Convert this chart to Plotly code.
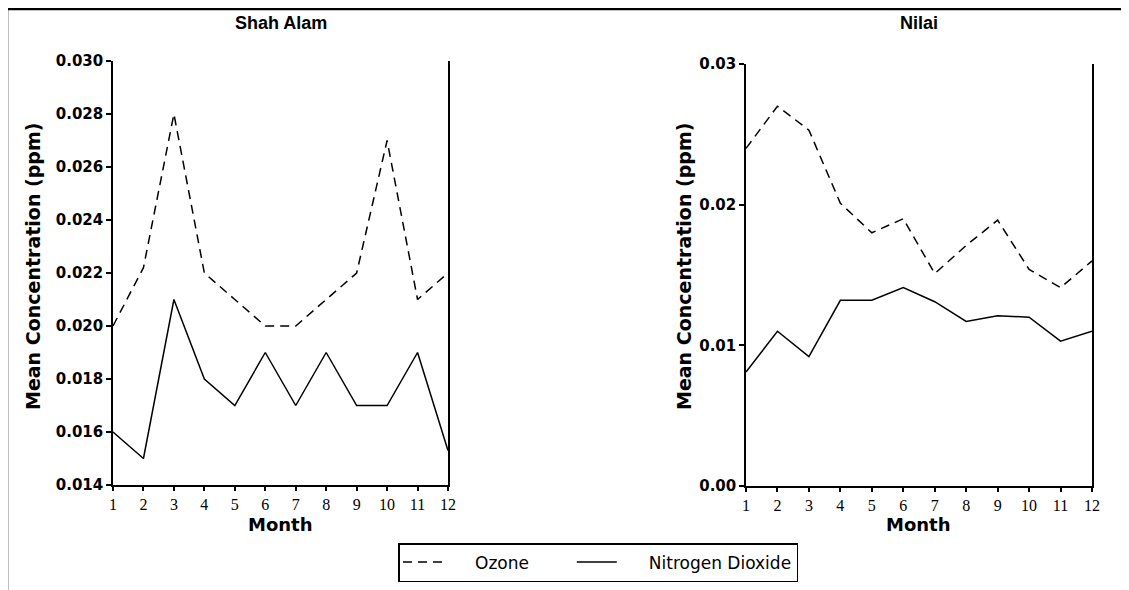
import plotly.graph_objects as go

months = list(range(1, 13))
month_ticks = [str(m) for m in months]

shah_alam_ozone = [0.0200, 0.0222, 0.0280, 0.0220, 0.0210, 0.0200, 0.0200, 0.0210, 0.0220, 0.0270, 0.0210, 0.0220]
shah_alam_no2 = [0.0160, 0.0150, 0.0210, 0.0180, 0.0170, 0.0190, 0.0170, 0.0190, 0.0170, 0.0170, 0.0190, 0.0153]

nilai_ozone = [0.0240, 0.0270, 0.0253, 0.0201, 0.0180, 0.0190, 0.0151, 0.0171, 0.0189, 0.0154, 0.0141, 0.0160]
nilai_no2 = [0.0081, 0.0110, 0.0092, 0.0132, 0.0132, 0.0141, 0.0131, 0.0117, 0.0121, 0.0120, 0.0103, 0.0110]

shah_alam_yticks = [0.014, 0.016, 0.018, 0.020, 0.022, 0.024, 0.026, 0.028, 0.030]
shah_alam_ylabels = ["0.014", "0.016", "0.018", "0.020", "0.022", "0.024", "0.026", "0.028", "0.030"]
nilai_yticks = [0.00, 0.01, 0.02, 0.03]
nilai_ylabels = ["0.00", "0.01", "0.02", "0.03"]

W, H = 1129, 590
OFF = 8  # page body margin offset

def px(x):
    return (x - OFF) / W

def py(y):
    return 1 - (y - OFF) / H

NB = "\u00a0"

fig = go.Figure()

dash_style = dict(color="black", width=1.5, dash="9px,6px")
solid_style = dict(color="black", width=1.5)

fig.add_trace(go.Scatter(x=months, y=shah_alam_ozone, mode="lines", line=dash_style,
                         name=NB * 5 + "Ozone" + NB * 7, legendgroup="o3", xaxis="x", yaxis="y"))
fig.add_trace(go.Scatter(x=months, y=shah_alam_no2, mode="lines", line=solid_style,
                         name=NB * 5 + "Nitrogen Dioxide", legendgroup="no2", xaxis="x", yaxis="y"))
fig.add_trace(go.Scatter(x=months, y=nilai_ozone, mode="lines", line=dash_style,
                         name="Ozone", legendgroup="o3", showlegend=False, xaxis="x2", yaxis="y2"))
fig.add_trace(go.Scatter(x=months, y=nilai_no2, mode="lines", line=solid_style,
                         name="Nitrogen Dioxide", legendgroup="no2", showlegend=False, xaxis="x2", yaxis="y2"))

xtickfont = dict(family="Liberation Serif", size=16, color="black")
ytickfont = dict(family="DejaVu Sans", size=15, color="black", weight="bold")

common_x = dict(range=[1, 12], tickmode="array", tickvals=months, ticktext=month_ticks,
                showline=True, linecolor="black", linewidth=1.5, ticks="outside",
                ticklen=4, tickwidth=2, tickcolor="black", showgrid=False, zeroline=False,
                tickfont=xtickfont, fixedrange=True)
common_y = dict(showline=True, linecolor="black", linewidth=1.5, mirror=True, ticks="outside",
                ticklen=5, tickwidth=1.5, tickcolor="black", showgrid=False, zeroline=False,
                tickfont=ytickfont, fixedrange=True)

fig.update_layout(
    width=W, height=H,
    margin=dict(l=0, r=0, t=0, b=0, autoexpand=False),
    paper_bgcolor="white", plot_bgcolor="white",
    xaxis=dict(domain=[px(113), px(448)], anchor="y", **common_x),
    yaxis=dict(domain=[py(485), py(61)], anchor="x", range=[0.014, 0.030],
               tickmode="array", tickvals=shah_alam_yticks, ticktext=shah_alam_ylabels, **common_y),
    xaxis2=dict(domain=[px(746), px(1092)], anchor="y2", **common_x),
    yaxis2=dict(domain=[py(486), py(64)], anchor="x2", range=[0.0, 0.03],
                tickmode="array", tickvals=nilai_yticks, ticktext=nilai_ylabels, **common_y),
    showlegend=True,
    legend=dict(orientation="h", x=px(398), xanchor="left", y=py(543), yanchor="top",
                bordercolor="black", borderwidth=1.5, bgcolor="white",
                font=dict(family="DejaVu Sans", size=17, color="black"),
                itemwidth=40, tracegroupgap=0),
)

title_font = dict(family="Liberation Sans", size=18, color="black", weight="bold")
axis_title_font = dict(family="DejaVu Sans", size=18, color="black", weight="bold")
ytitle_font = dict(family="DejaVu Sans", size=19, color="black", weight="bold")

annotations = [
    dict(text="Shah Alam", x=(px(113) + px(448)) / 2, y=py(23), xref="paper", yref="paper",
         showarrow=False, font=title_font, xanchor="center", yanchor="middle"),
    dict(text="Nilai", x=(px(746) + px(1092)) / 2, y=py(23), xref="paper", yref="paper",
         showarrow=False, font=title_font, xanchor="center", yanchor="middle"),
    dict(text="Month", x=(px(113) + px(448)) / 2, y=py(524), xref="paper", yref="paper",
         showarrow=False, font=axis_title_font, xanchor="center", yanchor="middle"),
    dict(text="Month", x=(px(746) + px(1092)) / 2, y=py(524), xref="paper", yref="paper",
         showarrow=False, font=axis_title_font, xanchor="center", yanchor="middle"),
    dict(text="Mean Concentration (ppm)", x=px(33), y=py(267), xref="paper", yref="paper",
         showarrow=False, font=ytitle_font, textangle=-90, xanchor="center", yanchor="middle"),
    dict(text="Mean Concentration (ppm)", x=px(684), y=py(267), xref="paper", yref="paper",
         showarrow=False, font=ytitle_font, textangle=-90, xanchor="center", yanchor="middle"),
]
fig.update_layout(annotations=annotations)

# outer frame (top and left edges)
fig.add_shape(type="line", xref="paper", yref="paper", x0=px(5), x1=1, y0=py(9), y1=py(9),
              line=dict(color="black", width=2.5))
fig.add_shape(type="line", xref="paper", yref="paper", x0=px(7), x1=px(7), y0=0, y1=py(9),
              line=dict(color="black", width=2.5))

fig.write_html("out.html", config={"displayModeBar": False})
